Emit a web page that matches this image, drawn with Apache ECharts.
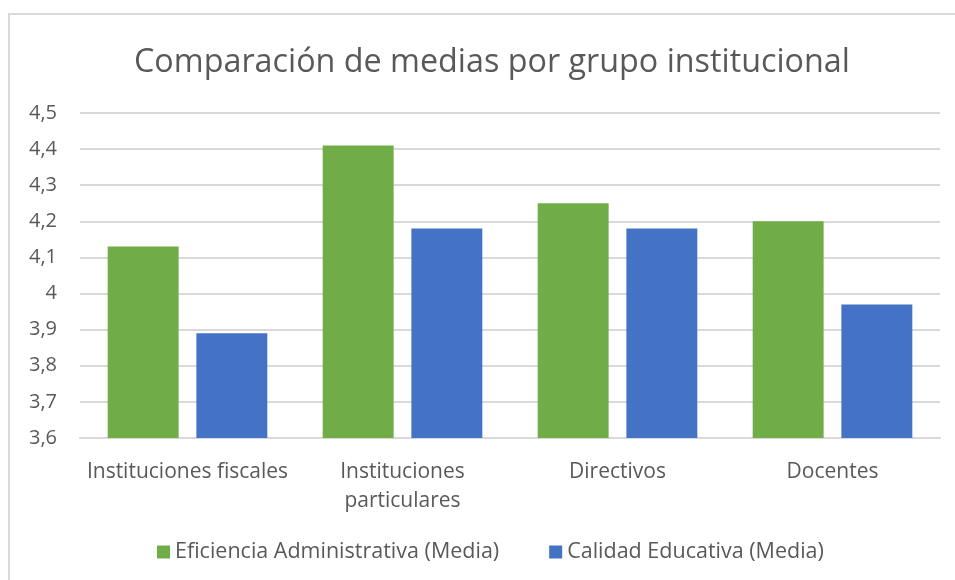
<!DOCTYPE html>
<html lang="es">
<head>
    <meta charset="UTF-8">
    <title>Comparación de medias</title>
    <style>
        html, body { margin: 0; padding: 0; background: #fff; }
        #main { width: 955px; height: 580px; }
    </style>
</head>
<body>
    <div id="main"></div>
    <script src="https://cdn.jsdelivr.net/npm/echarts@6/dist/echarts.min.js"></script>
    <script>
    // datos
    var categorias = ['Instituciones fiscales', 'Instituciones\nparticulares', 'Directivos', 'Docentes'];
    var eficiencia = [4.13, 4.41, 4.25, 4.20];
    var calidad = [3.89, 4.18, 4.18, 3.97];
    var nombres = ['Eficiencia Administrativa (Media)', 'Calidad Educativa (Media)'];

    var fuente = '"Open Sans", "Noto Sans", sans-serif';
    var gris = '#595959';

    var myChart = echarts.init(document.getElementById('main'));
    var option = {
        animation: false,
        textStyle: { fontFamily: fuente },
        title: {
            text: 'Comparación de medias por grupo institucional',
            left: 129,
            top: 42,
            textStyle: { fontFamily: fuente, fontSize: 32.3, fontWeight: 'normal', color: gris }
        },
        graphic: [{
            type: 'rect',
            shape: { x: 9, y: 14, width: 980, height: 620 },
            style: { fill: 'none', stroke: '#d9d9d9', lineWidth: 2 },
            silent: true
        }],
        legend: {
            data: nombres,
            bottom: 12,
            left: 152,
            itemWidth: 13,
            itemHeight: 13,
            itemGap: 50,
            icon: 'rect',
            textStyle: { fontFamily: fuente, fontSize: 21.5, color: gris }
        },
        grid: { left: 80, right: 15, top: 113, bottom: 142 },
        xAxis: {
            type: 'category',
            data: categorias,
            axisLine: { lineStyle: { color: '#d9d9d9', width: 2 } },
            axisTick: { show: false },
            axisLabel: {
                interval: 0,
                margin: 20,
                fontFamily: fuente,
                fontSize: 21,
                lineHeight: 29,
                color: gris
            }
        },
        yAxis: {
            type: 'value',
            min: 3.6,
            max: 4.5,
            interval: 0.1,
            axisLine: { show: false },
            axisTick: { show: false },
            splitLine: { lineStyle: { color: '#d9d9d9', width: 2 } },
            axisLabel: {
                margin: 23,
                fontFamily: fuente,
                fontSize: 20,
                color: gris,
                formatter: function (v) {
                    return (Math.round(v * 10) / 10).toString().replace('.', ',');
                }
            }
        },
        series: [
            {
                name: nombres[0],
                type: 'bar',
                data: eficiencia,
                barWidth: '33%',
                barGap: '25%',
                itemStyle: { color: '#70ad47' }
            },
            {
                name: nombres[1],
                type: 'bar',
                data: calidad,
                barWidth: '33%',
                itemStyle: { color: '#4472c4' }
            }
        ]
    };
    myChart.setOption(option);
    </script>
</body>
</html>
